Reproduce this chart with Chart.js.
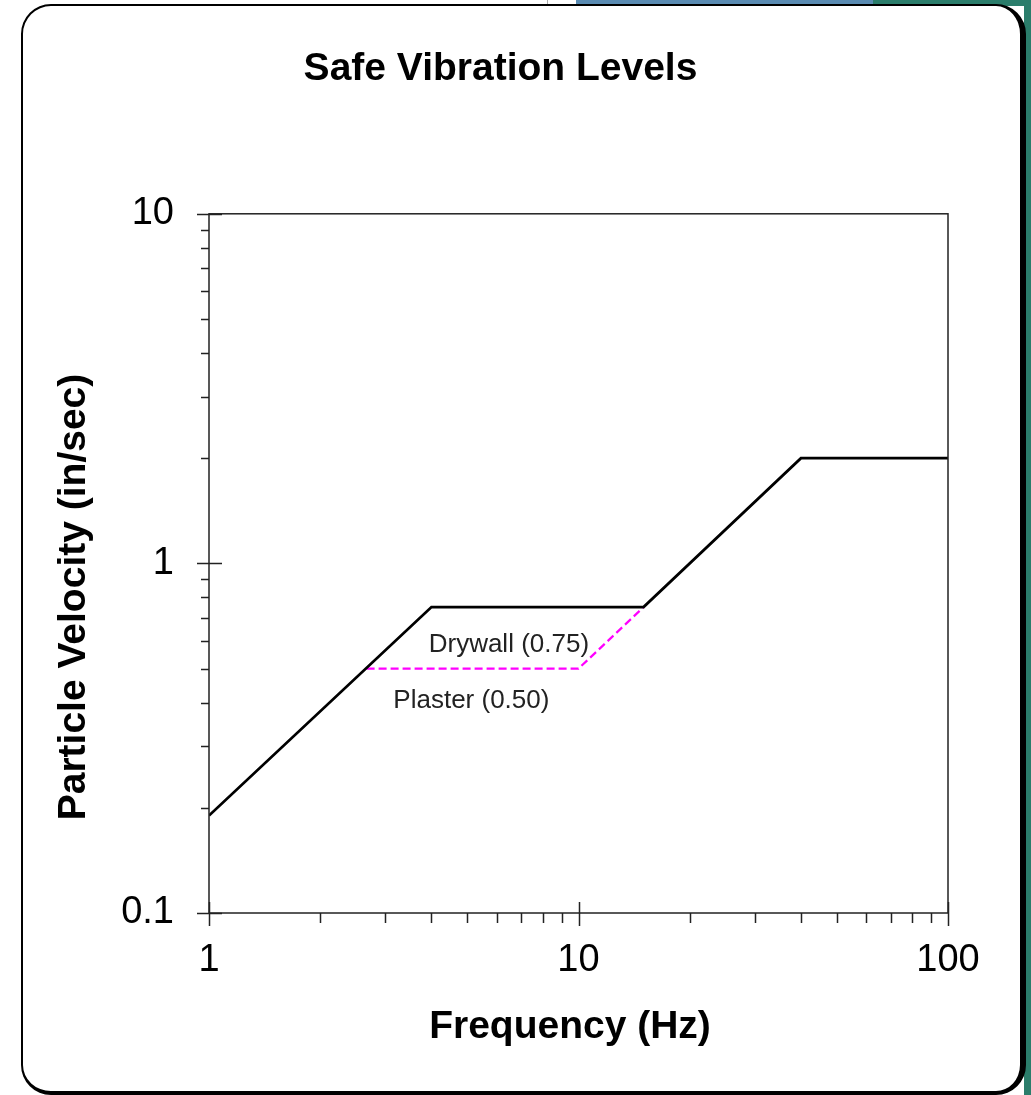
<!DOCTYPE html>
<html>
<head>
<meta charset="utf-8">
<title>Safe Vibration Levels</title>
<script src="https://cdn.jsdelivr.net/npm/chart.js@4.4.1/dist/chart.umd.min.js"></script>
<style>
  html, body { margin: 0; padding: 0; background: #fff; }
  body { width: 1031px; height: 1095px; position: relative; overflow: hidden; }
  .strip-blue { position: absolute; left: 576px; top: 0; width: 297px; height: 6px; background: #5a8bb2; }
  .strip-teal { position: absolute; left: 873px; top: 0; width: 158px; height: 6px; background: #2b7d6b; }
  .strip-right { position: absolute; left: 1024px; top: 0; width: 7px; height: 1095px; background: #2b7d6b; }
  .thin-line { position: absolute; left: 547px; top: 0; width: 1px; height: 5px; background: #aaa; }
  .card {
    position: absolute; left: 21px; top: 4px;
    width: 997px; height: 1085px;
    background: #fff;
    border: 2px solid #000;
    border-right-width: 6px;
    border-bottom-width: 4px;
    border-radius: 30px;
  }
  #chart { position: absolute; left: 0; top: 0; }
</style>
</head>
<body>
<div class="strip-blue"></div>
<div class="strip-teal"></div>
<div class="strip-right"></div>
<div class="thin-line"></div>
<div class="card"></div>
<canvas id="chart" width="1031" height="1095"></canvas>

<script>
// ---- data ----
const limitFreq = [1, 4, 15, 40, 100];
const limitVel = [0.19, 0.75, 0.75, 2, 2];

const plasterFreq = [2.67, 10, 15];
const plasterVel = [0.5, 0.5, 0.75];

const xTickValues = [1, 2, 3, 4, 5, 6, 7, 8, 9, 10, 20, 30, 40, 50, 60, 70, 80, 90, 100];
const xTickLabels = [1, 10, 100];
const yTickValues = [0.1, 0.2, 0.3, 0.4, 0.5, 0.6, 0.7, 0.8, 0.9, 1, 2, 3, 4, 5, 6, 7, 8, 9, 10];
const yTickLabels = [0.1, 1, 10];

const noteText = ["Drywall (0.75)", "Plaster (0.50)"];
const noteFreq = [6.48, 5.13];
const noteVel = [0.585, 0.404];

const FONT = "'Liberation Sans', Arial, sans-serif";

function toPoints(xs, ys) {
  return xs.map((x, i) => ({ x: x, y: ys[i] }));
}

// frame + tick marks (major ones cross the axis)
const frameTicks = {
  id: "frameTicks",
  afterDraw(chart) {
    const { ctx, chartArea: a, scales } = chart;
    ctx.save();
    ctx.strokeStyle = "#222";
    ctx.lineWidth = 1.5;
    ctx.strokeRect(a.left, a.top, a.right - a.left, a.bottom - a.top);
    ctx.beginPath();
    scales.x.ticks.forEach(t => {
      const px = Math.round(scales.x.getPixelForValue(t.value)) + 0.5;
      const major = xTickLabels.includes(t.value);
      ctx.moveTo(px, major ? a.bottom - 11 : a.bottom);
      ctx.lineTo(px, a.bottom + (major ? 13 : 10));
    });
    scales.y.ticks.forEach(t => {
      const py = Math.round(scales.y.getPixelForValue(t.value)) + 0.5;
      const major = yTickLabels.includes(t.value);
      ctx.moveTo(a.left - (major ? 12 : 8), py);
      ctx.lineTo(major ? a.left + 13 : a.left, py);
    });
    ctx.stroke();
    ctx.restore();
  }
};

// axis titles and the two curve notes
const labels = {
  id: "labels",
  afterDraw(chart) {
    const { ctx, scales } = chart;
    ctx.save();
    ctx.fillStyle = "#000";
    ctx.textAlign = "center";
    ctx.textBaseline = "middle";
    ctx.font = "bold 39px " + FONT;
    ctx.fillText("Frequency (Hz)", 570, 1027);
    ctx.translate(74, 597);
    ctx.rotate(-Math.PI / 2);
    ctx.fillText("Particle Velocity (in/sec)", 0, 0);
    ctx.restore();

    ctx.save();
    ctx.fillStyle = "#222";
    ctx.textAlign = "center";
    ctx.textBaseline = "middle";
    ctx.font = "26px " + FONT;
    noteText.forEach((txt, i) => {
      ctx.fillText(txt, scales.x.getPixelForValue(noteFreq[i]), scales.y.getPixelForValue(noteVel[i]));
    });
    ctx.restore();
  }
};

new Chart(document.getElementById("chart"), {
  type: "line",
  data: {
    datasets: [
      {
        label: "Limit",
        data: toPoints(limitFreq, limitVel),
        borderColor: "#000",
        borderWidth: 2.8,
        pointRadius: 0,
        tension: 0
      },
      {
        label: "Plaster",
        data: toPoints(plasterFreq, plasterVel),
        borderColor: "#ff00ff",
        borderWidth: 2.2,
        borderDash: [8, 4],
        pointRadius: 0,
        tension: 0
      }
    ]
  },
  options: {
    responsive: false,
    animation: false,
    layout: { padding: { left: 53, right: 83, top: 0, bottom: 0 } },
    plugins: {
      legend: { display: false },
      tooltip: { enabled: false },
      title: {
        display: true,
        text: "Safe Vibration Levels",
        color: "#000",
        font: { family: FONT, size: 39, weight: "bold" },
        padding: { top: 46, bottom: 121 }
      }
    },
    scales: {
      x: {
        type: "logarithmic",
        min: 1,
        max: 100,
        afterBuildTicks: s => { s.ticks = xTickValues.map(v => ({ value: v })); },
        afterFit: s => { s.height = 182; },
        grid: { display: false, drawTicks: false },
        border: { display: false },
        ticks: {
          autoSkip: false,
          maxRotation: 0,
          padding: 25,
          color: "#000",
          font: { family: FONT, size: 38 },
          callback: v => xTickLabels.includes(v) ? String(v) : ""
        }
      },
      y: {
        type: "logarithmic",
        min: 0.1,
        max: 10,
        afterBuildTicks: s => { s.ticks = yTickValues.map(v => ({ value: v })); },
        afterFit: s => { s.width = 156; },
        grid: { display: false, drawTicks: false },
        border: { display: false },
        ticks: {
          autoSkip: false,
          padding: 35,
          color: "#000",
          font: { family: FONT, size: 38 },
          callback: v => yTickLabels.includes(v) ? String(v) : ""
        }
      }
    }
  },
  plugins: [frameTicks, labels]
});
</script>
</body>
</html>
